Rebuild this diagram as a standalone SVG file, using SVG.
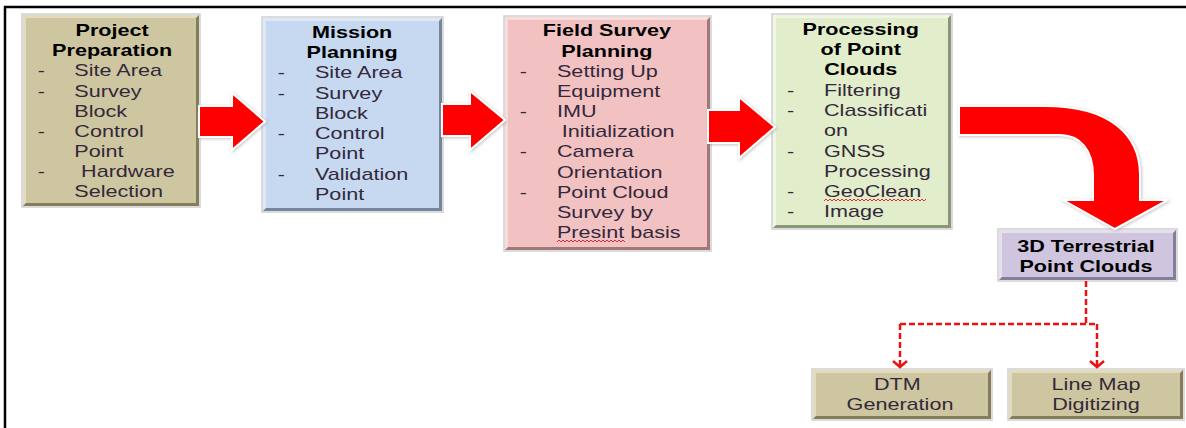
<svg xmlns="http://www.w3.org/2000/svg" width="1186" height="428" viewBox="0 0 1186 428">
<style>
text{font-family:"Liberation Sans",Arial,sans-serif;font-size:16px;fill:#33283a}
.t{font-weight:bold;fill:#000;text-anchor:middle}
.c{text-anchor:middle}
.glow{fill:none;stroke:#cfcfcf;stroke-width:1.5}
.arrow{fill:#ff0000;stroke:#ffffff;stroke-width:2;filter:url(#sh)}
.dash{fill:none;stroke:#ee1111;stroke-width:2.5;stroke-dasharray:6 3}
.chev{fill:none;stroke:#ee1111;stroke-width:2.5}
.sq{fill:none;stroke:#e03030;stroke-width:1}
</style>
<defs>
<filter id="sh" x="-20%" y="-20%" width="140%" height="140%">
<feDropShadow dx="1" dy="1" stdDeviation="1.5" flood-color="#888" flood-opacity="0.5"/>
</filter>
</defs>
<rect width="1186" height="428" fill="#fff"/>
<path d="M5,428 V7 H1186" fill="none" stroke="#000" stroke-width="2.5"/>

<g id="n1">
<rect class="glow" x="22" y="14" width="178" height="193"/>
<rect x="23" y="15" width="176" height="191" fill="#cec6a0"/>
<polygon points="23,15 199,15 196,18 26,18 26,203 23,206" fill="#e2dbbd"/>
<polygon points="199,15 199,206 23,206 26,203 196,203 196,18" fill="#857d5c"/>
<g transform="translate(23,0) scale(1.35,1)">
<text class="t" x="66" y="36">Project</text>
<text class="t" x="66" y="56">Preparation</text>
<text x="11" y="76">-</text><text x="38" y="76">Site Area</text>
<text x="11" y="97">-</text><text x="38" y="97">Survey</text>
<text x="38" y="117">Block</text>
<text x="11" y="137">-</text><text x="38" y="137">Control</text>
<text x="38" y="157">Point</text>
<text x="11" y="177">-</text><text x="43" y="177">Hardware</text>
<text x="38" y="197">Selection</text>
</g>
</g>

<g id="n2">
<rect class="glow" x="262" y="17" width="181" height="195"/>
<rect x="263" y="18" width="179" height="193" fill="#c6d9f0"/>
<polygon points="263,18 442,18 439,21 266,21 266,208 263,211" fill="#dde8f6"/>
<polygon points="442,18 442,211 263,211 266,208 439,208 439,21" fill="#75859c"/>
<g transform="translate(263,0) scale(1.35,1)">
<text class="t" x="66" y="38">Mission</text>
<text class="t" x="66" y="58">Planning</text>
<text x="11" y="78">-</text><text x="38.5" y="78">Site Area</text>
<text x="11" y="99">-</text><text x="38.5" y="99">Survey</text>
<text x="38.5" y="119">Block</text>
<text x="11" y="139">-</text><text x="38.5" y="139">Control</text>
<text x="38.5" y="159">Point</text>
<text x="11" y="180">-</text><text x="38.5" y="180">Validation</text>
<text x="38.5" y="200">Point</text>
</g>
</g>

<g id="n3">
<rect class="glow" x="504" y="16" width="207" height="235"/>
<rect x="505" y="17" width="205" height="233" fill="#f2c2c2"/>
<polygon points="505,17 710,17 707,20 508,20 508,247 505,250" fill="#f8dcdc"/>
<polygon points="710,17 710,250 505,250 508,247 707,247 707,20" fill="#a07878"/>
<g transform="translate(505,0) scale(1.35,1)">
<text class="t" x="75.5" y="36">Field Survey</text>
<text class="t" x="75.5" y="57">Planning</text>
<text x="11" y="77">-</text><text x="38.5" y="77">Setting Up</text>
<text x="38.5" y="97">Equipment</text>
<text x="11" y="117">-</text><text x="38.5" y="117">IMU</text>
<text x="42" y="137">Initialization</text>
<text x="11" y="157">-</text><text x="38.5" y="157">Camera</text>
<text x="38.5" y="178">Orientation</text>
<text x="11" y="198">-</text><text x="38.5" y="198">Point Cloud</text>
<text x="38.5" y="218">Survey by</text>
<text x="38.5" y="238">Presint basis</text>
</g>
<path class="sq" d="M557,242 l2,-2 l2,2 l2,-2 l2,2 l2,-2 l2,2 l2,-2 l2,2 l2,-2 l2,2 l2,-2 l2,2 l2,-2 l2,2 l2,-2 l2,2 l2,-2 l2,2 l2,-2 l2,2 l2,-2 l2,2 l2,-2 l2,2 l2,-2 l2,2 l2,-2 l2,2 l2,-2 l2,2 l2,-2 l2,2 l2,-2 l2,2"/>
</g>

<g id="n4">
<rect class="glow" x="772" y="14" width="180" height="215"/>
<rect x="773" y="15" width="178" height="213" fill="#e2eecb"/>
<polygon points="773,15 951,15 948,18 776,18 776,225 773,228" fill="#eff6e2"/>
<polygon points="951,15 951,228 773,228 776,225 948,225 948,18" fill="#8a9776"/>
<g transform="translate(773,0) scale(1.35,1)">
<text class="t" x="65" y="35">Processing</text>
<text class="t" x="65" y="55">of Point</text>
<text class="t" x="65" y="75">Clouds</text>
<text x="10.4" y="96">-</text><text x="37.8" y="96">Filtering</text>
<text x="10.4" y="116">-</text><text x="37.8" y="116">Classificati</text>
<text x="37.8" y="136">on</text>
<text x="10.4" y="157">-</text><text x="37.8" y="157">GNSS</text>
<text x="37.8" y="177">Processing</text>
<text x="10.4" y="197">-</text><text x="37.8" y="197">GeoClean</text>
<text x="10.4" y="217">-</text><text x="37.8" y="217">Image</text>
</g>
<path class="sq" d="M824,201 l2,-2 l2,2 l2,-2 l2,2 l2,-2 l2,2 l2,-2 l2,2 l2,-2 l2,2 l2,-2 l2,2 l2,-2 l2,2 l2,-2 l2,2 l2,-2 l2,2 l2,-2 l2,2 l2,-2 l2,2 l2,-2 l2,2 l2,-2 l2,2 l2,-2 l2,2 l2,-2 l2,2 l2,-2 l2,2 l2,-2 l2,2 l2,-2 l2,2 l2,-2 l2,2 l2,-2 l2,2 l2,-2 l2,2 l2,-2 l2,2 l2,-2 l2,2 l2,-2 l2,2 l2,-2 l2,2 l2,-2"/>
</g>

<g id="n5">
<rect class="glow" x="998" y="229" width="179" height="52"/>
<rect x="999" y="230" width="177" height="50" fill="#d0c5df"/>
<polygon points="999,230 1176,230 1173,233 1002,233 1002,277 999,280" fill="#e6dfee"/>
<polygon points="1176,230 1176,280 999,280 1002,277 1173,277 1173,233" fill="#867c9c"/>
<g transform="translate(1086,0) scale(1.35,1)">
<text class="t" x="0" y="252">3D Terrestrial</text>
<text class="t" x="0" y="272">Point Clouds</text>
</g>
</g>

<g id="n6">
<rect class="glow" x="812" y="369" width="180" height="51"/>
<rect x="813" y="370" width="178" height="49" fill="#cec6a0"/>
<polygon points="813,370 991,370 988,373 816,373 816,416 813,419" fill="#e2dbbd"/>
<polygon points="991,370 991,419 813,419 816,416 988,416 988,373" fill="#857d5c"/>
<g transform="translate(900,0) scale(1.35,1)">
<text class="c" x="-2" y="390">DTM</text>
<text class="c" x="0" y="410">Generation</text>
</g>
</g>

<g id="n7">
<rect class="glow" x="1008" y="369" width="176" height="51"/>
<rect x="1009" y="370" width="174" height="49" fill="#cec6a0"/>
<polygon points="1009,370 1183,370 1180,373 1012,373 1012,416 1009,419" fill="#e2dbbd"/>
<polygon points="1183,370 1183,419 1009,419 1012,416 1180,416 1180,373" fill="#857d5c"/>
<g transform="translate(1096,0) scale(1.35,1)">
<text class="c" x="0" y="390">Line Map</text>
<text class="c" x="0" y="410">Digitizing</text>
</g>
</g>

<g id="connectors">
<path class="arrow" d="M199,106 L232,106 L232,93 L265,121.5 L232,150 L232,137 L199,137 Z"/>
<path class="arrow" d="M442,104 L470,104 L470,91 L505,120 L470,150 L470,136 L442,136 Z"/>
<path class="arrow" d="M708,110 L739,110 L739,97 L775,127 L739,158 L739,143 L708,143 Z"/>
<path class="arrow" d="M959,106 L1045,106 C1110,106 1140,135 1140,175 L1140,200 L1168,200 L1115,229 L1063,200 L1093,200 L1093,175 C1093,150 1080,135 1060,135 L959,135 Z"/>
<path class="dash" d="M1086,281 V324 M900,324 H1097 M900,324 V366 M1097,324 V366"/>
<path class="chev" d="M893,361 L900,367 L907,361 M1090,361 L1097,367 L1104,361"/>
</g>
</svg>
